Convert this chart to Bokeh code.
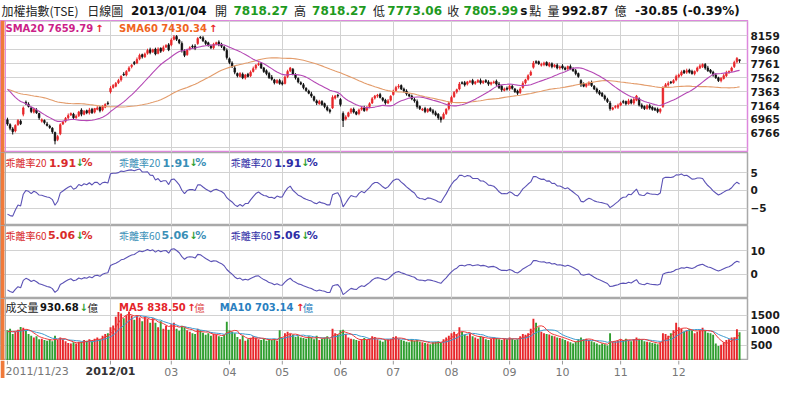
import numpy as np
import pandas as pd
from bokeh.plotting import figure
from bokeh.layouts import column
from bokeh.models import Range1d, FixedTicker, BoxAnnotation, Span
from bokeh.embed import file_html
from bokeh.resources import INLINE
from bokeh.core.properties import value

# ---------------- data ----------------
# closes before the first shown day (needed for SMA20 / SMA60)
prior_close = [7560, 7620, 7740,
               7710, 7660, 7530, 7420, 7480, 7560, 7500, 7420, 7380, 7330, 7420, 7510, 7600, 7560, 7480, 7300, 7250, 7230, 7280, 7230,
               7210, 7120, 7000, 7050, 7150, 7200, 7300, 7400, 7350, 7420, 7480, 7380, 7330, 7400, 7450, 7420, 7460,
               7480, 7630, 7680, 7600, 7450, 7420, 7520, 7580, 7560, 7480, 7510, 7420, 7460, 7380, 7330, 7260, 7200, 7060, 6980]
prior_vol = [980, 1020, 940, 900, 960, 1000, 920, 880, 950]

close_2011_11 = [6900, 6840, 6790, 6880, 6950, 6905]
close_2011_12 = [7130, 7190, 7150, 7080, 7110, 7060, 6990, 6960, 6920, 6880, 6850, 6790, 6660, 6720, 6890, 6930, 6980, 7020, 7050, 6990, 7010, 7072]
close_2012_01 = [7040, 7080, 7060, 7100, 7060, 7120, 7130, 7090, 7150, 7180, 7190, 7410, 7450]
close_2012_02 = [7480, 7520, 7580, 7600, 7650, 7700, 7740, 7760, 7820, 7880, 7860, 7900, 7950, 7920, 7960, 7900, 7970, 7940, 7990, 8020, 7960]
close_2012_03 = [8100, 8144, 8110, 8060, 7950, 7880, 7960, 7990, 8000, 7980, 8120, 8130, 8090, 8050, 8020, 7990, 8040, 8060, 8030, 8010, 7960, 7850]
close_2012_04 = [7780, 7720, 7640, 7590, 7620, 7560, 7600, 7580, 7640, 7690, 7740, 7760, 7700, 7650, 7620, 7560, 7540, 7490, 7520, 7480]
close_2012_05 = [7470, 7570, 7650, 7700, 7610, 7560, 7500, 7470, 7420, 7380, 7340, 7300, 7240, 7200, 7220, 7180, 7150, 7100, 7080, 7280, 7300, 7301]
close_2012_06 = [7180, 6950, 7000, 7060, 7110, 7070, 7040, 7100, 7130, 7090, 7140, 7190, 7260, 7300, 7310, 7280, 7240, 7200, 7230, 7296]
close_2012_07 = [7370, 7420, 7440, 7400, 7370, 7330, 7300, 7260, 7230, 7150, 7120, 7110, 7080, 7110, 7090, 7060, 7030, 6990, 6960, 7040, 7110, 7200]
close_2012_08 = [7280, 7350, 7390, 7470, 7480, 7460, 7500, 7510, 7480, 7500, 7520, 7490, 7510, 7500, 7470, 7490, 7500, 7470, 7420, 7390, 7400, 7397]
close_2012_09 = [7440, 7410, 7360, 7340, 7400, 7480, 7530, 7590, 7640, 7770, 7780, 7760, 7750, 7770, 7740, 7760, 7720, 7740, 7700, 7715]
close_2012_10 = [7700, 7680, 7720, 7690, 7660, 7620, 7580, 7460, 7440, 7470, 7490, 7450, 7400, 7360, 7330, 7300, 7260, 7220, 7120, 7130, 7150, 7166]
close_2012_11 = [7200, 7210, 7190, 7230, 7200, 7250, 7300, 7170, 7140, 7120, 7160, 7130, 7110, 7100, 7080, 7110, 7420, 7460, 7480, 7490, 7520, 7580]
close_2012_12 = [7600, 7640, 7630, 7660, 7640, 7620, 7650, 7700, 7730, 7750, 7700, 7660, 7640, 7600, 7560, 7520, 7550, 7590, 7630, 7650, 7699]
close_2013_01 = [7779, 7836, 7805.99]

open_2011_11 = [6960, 6890, 6830, 6800, 6890, 6940]
open_2011_12 = [7040, 7210, 7180, 7130, 7070, 7100, 7050, 6940, 6950, 6900, 6870, 6840, 6780, 6680, 6760, 6900, 6940, 6990, 7030, 7040, 6990, 7020]
open_2012_01 = [7100, 7040, 7090, 7060, 7110, 7070, 7110, 7140, 7100, 7140, 7200, 7360, 7420]
open_2012_02 = [7440, 7490, 7530, 7610, 7600, 7660, 7720, 7780, 7770, 7830, 7890, 7860, 7910, 7960, 7930, 7970, 7910, 7980, 7950, 8000, 8030]
open_2012_03 = [8030, 8110, 8150, 8100, 8050, 7940, 7890, 7970, 8010, 8010, 8050, 8140, 8130, 8080, 8060, 8010, 7990, 8040, 8070, 8040, 8000, 7950]
open_2012_04 = [7830, 7770, 7700, 7620, 7580, 7610, 7560, 7610, 7590, 7650, 7700, 7750, 7760, 7700, 7660, 7620, 7570, 7530, 7490, 7520]
open_2012_05 = [7490, 7480, 7580, 7660, 7680, 7600, 7550, 7490, 7460, 7410, 7370, 7330, 7290, 7230, 7190, 7220, 7190, 7140, 7100, 7130, 7270, 7310]
open_2012_06 = [7250, 7050, 6970, 7010, 7070, 7110, 7070, 7050, 7110, 7130, 7100, 7150, 7200, 7270, 7300, 7320, 7270, 7240, 7200, 7240]
open_2012_07 = [7320, 7380, 7430, 7450, 7400, 7370, 7320, 7300, 7250, 7220, 7150, 7100, 7120, 7080, 7120, 7090, 7060, 7040, 6990, 6980, 7050, 7120]
open_2012_08 = [7210, 7290, 7360, 7400, 7490, 7490, 7470, 7500, 7520, 7480, 7500, 7520, 7490, 7520, 7500, 7470, 7490, 7510, 7470, 7440, 7380, 7410]
open_2012_09 = [7400, 7440, 7400, 7370, 7350, 7420, 7490, 7540, 7600, 7710, 7790, 7790, 7740, 7750, 7780, 7730, 7760, 7720, 7740, 7700]
open_2012_10 = [7730, 7700, 7690, 7720, 7690, 7660, 7620, 7520, 7470, 7440, 7470, 7490, 7440, 7400, 7360, 7340, 7300, 7250, 7200, 7110, 7140, 7140]
open_2012_11 = [7170, 7220, 7220, 7190, 7240, 7200, 7240, 7260, 7170, 7150, 7120, 7160, 7140, 7120, 7110, 7080, 7150, 7430, 7460, 7500, 7490, 7530]
open_2012_12 = [7580, 7600, 7660, 7640, 7670, 7650, 7620, 7660, 7700, 7720, 7750, 7700, 7670, 7640, 7600, 7560, 7520, 7550, 7590, 7640, 7660]
open_2013_01 = [7720, 7790, 7818.27]

# upper / lower shadow lengths (points above max(open,close), below min(open,close))
upper_shadow = [30, 20, 25, 15, 20, 25,
                20, 25, 30, 15, 20, 25, 10, 20, 15, 30, 20, 15, 10, 25, 20, 15, 20, 30, 15, 20, 25, 15,
                25, 20, 15, 30, 20, 10, 25, 15, 20, 15, 25, 30, 20,
                20, 25, 15, 30, 20, 25, 15, 20, 30, 25, 15, 20, 25, 30, 15, 20, 25, 15, 30, 20, 25,
                25, 26, 20, 15, 30, 25, 15, 20, 25, 30, 20, 15, 25, 20, 15, 25, 20, 15, 25, 20, 15, 30,
                20, 25, 30, 15, 20, 25, 15, 20, 25, 30, 15, 20, 25, 15, 20, 25, 30, 15, 20, 25,
                30, 20, 25, 15, 20, 25, 15, 20, 25, 15, 20, 30, 15, 20, 25, 20, 15, 25, 20, 30, 15, 20,
                20, 30, 25, 15, 20, 25, 15, 20, 25, 30, 15, 20, 25, 15, 20, 25, 15, 20, 25, 15,
                20, 25, 30, 15, 20, 25, 15, 20, 25, 30, 15, 20, 25, 15, 20, 25, 30, 15, 20, 25, 15, 20,
                25, 20, 15, 30, 20, 25, 15, 20, 25, 15, 20, 30, 15, 20, 25, 15, 20, 25, 30, 15, 20, 25,
                20, 25, 15, 20, 25, 30, 15, 20, 25, 30, 20, 15, 25, 20, 15, 25, 20, 15, 25, 20,
                25, 20, 15, 30, 20, 25, 15, 20, 25, 15, 20, 30, 15, 20, 25, 15, 20, 25, 30, 15, 20, 25,
                20, 25, 15, 30, 20, 25, 15, 20, 25, 15, 20, 30, 15, 20, 25, 15, 20, 25, 30, 15, 20, 25,
                20, 25, 15, 30, 20, 25, 15, 20, 25, 15, 20, 30, 15, 20, 25, 15, 20, 25, 30, 15, 20,
                25, 20, 0]
lower_shadow = [25, 30, 40, 20, 15, 20,
                30, 20, 15, 25, 20, 15, 30, 20, 25, 15, 20, 30, 51, 25, 20, 15, 20, 25, 15, 20, 15, 20,
                30, 15, 20, 25, 15, 20, 15, 25, 20, 15, 20, 25, 15,
                15, 20, 25, 15, 20, 15, 25, 20, 15, 20, 25, 15, 20, 25, 15, 20, 15, 25, 20, 15, 20,
                20, 15, 25, 20, 30, 25, 15, 20, 15, 25, 20, 15, 20, 25, 15, 20, 25, 15, 20, 25, 20, 30,
                25, 20, 30, 25, 15, 20, 25, 15, 20, 15, 25, 20, 15, 20, 25, 15, 20, 25, 15, 20,
                20, 15, 25, 20, 15, 25, 20, 15, 25, 20, 15, 25, 20, 30, 15, 20, 25, 20, 30, 15, 20, 25,
                30, 93, 20, 15, 25, 20, 15, 25, 20, 15, 20, 25, 15, 20, 25, 15, 20, 25, 15, 20,
                15, 20, 25, 15, 20, 25, 15, 20, 25, 30, 20, 15, 25, 20, 15, 25, 20, 30, 40, 15, 20, 25,
                20, 15, 25, 20, 15, 25, 20, 15, 25, 20, 15, 25, 20, 15, 25, 20, 15, 25, 20, 30, 15, 20,
                25, 20, 15, 25, 20, 15, 25, 20, 15, 20, 25, 15, 20, 25, 15, 20, 25, 15, 20, 25,
                20, 15, 25, 20, 15, 25, 20, 30, 15, 20, 25, 20, 15, 25, 20, 15, 25, 20, 30, 15, 20, 25,
                15, 20, 25, 15, 20, 25, 15, 20, 25, 20, 15, 25, 20, 15, 25, 30, 20, 15, 25, 20, 15, 20,
                25, 20, 15, 25, 20, 15, 25, 20, 15, 20, 25, 15, 20, 25, 15, 20, 25, 15, 20, 25, 15,
                20, 25, 32.93]

vol_2011_11 = [1000, 1050, 880, 950, 1020, 1110]
vol_2011_12 = [1080, 1000, 880, 820, 760, 800, 700, 720, 680, 650, 700, 640, 820, 680, 760, 700, 640, 580, 560, 600, 560, 620]
vol_2012_01 = [620, 680, 650, 700, 640, 720, 760, 700, 820, 880, 900, 1100, 1160]
vol_2012_02 = [1450, 1600, 1550, 1400, 1500, 1620, 1480, 1350, 1500, 1420, 1300, 1450, 1380, 1250, 1400, 1250, 1100, 1300, 1050, 1150, 1020]
vol_2012_03 = [1200, 1250, 1050, 980, 1150, 1100, 1000, 950, 900, 880, 1050, 1000, 920, 850, 900, 820, 880, 850, 800, 780, 850, 1280]
vol_2012_04 = [1000, 950, 900, 780, 700, 820, 650, 700, 750, 800, 760, 700, 680, 720, 650, 700, 680, 720, 650, 1000]
vol_2012_05 = [750, 900, 950, 880, 850, 780, 800, 760, 740, 720, 800, 760, 700, 820, 680, 720, 760, 800, 700, 1050, 900, 860]
vol_2012_06 = [1000, 1020, 880, 760, 720, 700, 680, 650, 700, 740, 680, 720, 800, 780, 700, 660, 620, 680, 700, 720]
vol_2012_07 = [780, 800, 720, 680, 650, 620, 600, 700, 650, 680, 620, 600, 580, 560, 540, 600, 620, 640, 580, 700, 760, 820]
vol_2012_08 = [900, 950, 880, 1100, 950, 860, 820, 880, 800, 760, 720, 800, 780, 700, 680, 720, 760, 740, 700, 680, 720, 700]
vol_2012_09 = [760, 720, 680, 700, 800, 880, 850, 900, 1050, 1380, 1250, 1100, 950, 900, 880, 860, 820, 800, 760, 740]
vol_2012_10 = [720, 680, 640, 600, 560, 620, 700, 760, 700, 720, 680, 640, 600, 560, 520, 560, 540, 500, 900, 620, 640, 660]
vol_2012_11 = [700, 680, 720, 660, 640, 700, 760, 720, 680, 640, 620, 600, 580, 560, 540, 600, 900, 880, 820, 900, 1000, 1250]
vol_2012_12 = [1100, 1050, 960, 1000, 1050, 1000, 900, 950, 1000, 1080, 1000, 920, 900, 850, 560, 480, 520, 600, 679, 700, 760]
vol_2013_01 = [770, 1031.8, 930.68]

month_ticks = [39, 62, 84, 104, 126, 146, 168, 190, 210, 232, 254]
month_labels = ["2012/01", "03", "04", "05", "06", "07", "08", "09", "10", "11", "12"]
first_label = "2011/11/23"
price_ticks = [6766, 6965, 7164, 7363, 7562, 7761, 7960, 8159]
price_grid = [6567, 6766, 6965, 7164, 7363, 7562, 7761, 7960, 8159, 8358]
bias20_ticks = [-5, 0, 5]
bias60_ticks = [0, 10]
vol_ticks = [500, 1000, 1500]

# ---------------- derived series ----------------
close = (close_2011_11 + close_2011_12 + close_2012_01 + close_2012_02 + close_2012_03 + close_2012_04 +
         close_2012_05 + close_2012_06 + close_2012_07 + close_2012_08 + close_2012_09 + close_2012_10 +
         close_2012_11 + close_2012_12 + close_2013_01)
opn = (open_2011_11 + open_2011_12 + open_2012_01 + open_2012_02 + open_2012_03 + open_2012_04 +
       open_2012_05 + open_2012_06 + open_2012_07 + open_2012_08 + open_2012_09 + open_2012_10 +
       open_2012_11 + open_2012_12 + open_2013_01)
vol = (vol_2011_11 + vol_2011_12 + vol_2012_01 + vol_2012_02 + vol_2012_03 + vol_2012_04 +
       vol_2012_05 + vol_2012_06 + vol_2012_07 + vol_2012_08 + vol_2012_09 + vol_2012_10 +
       vol_2012_11 + vol_2012_12 + vol_2013_01)

N = len(close)
xi = np.arange(N)
c = np.array(close, float)
o = np.array(opn, float)
v = np.array(vol, float)
hi = np.maximum(o, c) + np.array(upper_shadow, float)
lo = np.minimum(o, c) - np.array(lower_shadow, float)

ce = pd.Series(prior_close + close, dtype=float)
sma20 = ce.rolling(20).mean().to_numpy()[len(prior_close):]
sma60 = ce.rolling(60).mean().to_numpy()[len(prior_close):]
bias20 = (c - sma20) / sma20 * 100
bias60 = (c - sma60) / sma60 * 100
ve = pd.Series(prior_vol + vol, dtype=float)
ma5 = ve.rolling(5).mean().to_numpy()[len(prior_vol):]
ma10 = ve.rolling(10).mean().to_numpy()[len(prior_vol):]

RED = "#e8262a"
BLK = "#111111"
GRN = "#2f9e2f"
up = c > o
ccol = [RED if u else BLK for u in up]
vcol = [RED if u else GRN for u in up]

# ---------------- layout helpers ----------------
W = 784
RB = 37
XR = Range1d(-2.62, 280.0)


def xd(px):
    return (px - 7) / 2.675


def ytop(y0, y1, h, px):
    """data y located px pixels below the top of a panel of height h"""
    return y1 - px * (y1 - y0) / h


def panel(h, y0, y1, ticks, gticks, outline):
    p = figure(width=W, height=h, x_range=XR, y_range=Range1d(y0, y1),
               output_backend="svg", toolbar_location=None,
               x_axis_location=None, y_axis_location="right",
               min_border_left=0, min_border_right=RB, min_border_top=0, min_border_bottom=0)
    ax = p.yaxis[0]
    ax.ticker = FixedTicker(ticks=ticks)
    ax.axis_line_color = None
    ax.major_tick_line_color = None
    ax.minor_tick_line_color = None
    ax.major_tick_out = 0
    ax.major_tick_in = 0
    ax.minor_tick_out = 0
    ax.major_label_standoff = 3
    ax.major_label_text_font = "DejaVu Sans"
    ax.major_label_text_font_style = "bold"
    ax.major_label_text_font_size = "10.5px"
    ax.major_label_text_color = "#1a1a1a"
    p.xgrid.ticker = FixedTicker(ticks=month_ticks)
    p.ygrid.ticker = FixedTicker(ticks=gticks)
    p.grid.grid_line_color = "#d2d2d2"
    p.grid.grid_line_width = 1
    p.outline_line_color = outline
    p.outline_line_width = 1.5
    p.background_fill_color = "white"
    p.border_fill_color = "white"
    p.add_layout(BoxAnnotation(right=xd(4), fill_color="#f07a3a", fill_alpha=1.0,
                               line_alpha=0.0, level="overlay"))
    p.add_layout(Span(location=xd(5), dimension="height", line_color=outline, line_width=1))
    return p


def txt(p, text, x, y, color, size, font="DejaVu Sans", style="bold", align="left"):
    p.text(x=[x], y=[y], text=[text], text_color=color, text_font=value(font),
           text_font_size=size, text_font_style=style,
           text_baseline="middle", text_align=align)


CJK = "Noto Sans CJK TC"
H_T, H_M, H_B, H_V, H_L = 20, 132, 73, 62, 18

# ---------------- title row ----------------
t = figure(width=W, height=H_T, x_range=Range1d(0, W), y_range=Range1d(0, H_T),
           output_backend="svg", toolbar_location=None,
           x_axis_location=None, y_axis_location=None, min_border=0)
t.grid.visible = False
t.outline_line_color = None
TY = 10
TGRN = "#1e9a1e"
TK = "#222222"
txt(t, "加權指數(TSE)", 1, TY, TK, "12px", CJK, "normal")
txt(t, "日線圖", 91, TY, TK, "12px", CJK, "normal")
txt(t, "2013/01/04", 137, TY, "#111111", "12px")
txt(t, "開", 225, TY, TK, "12px", CJK, "normal")
txt(t, "7818.27", 244.5, TY, TGRN, "12px")
txt(t, "高", 308, TY, TK, "12px", CJK, "normal")
txt(t, "7818.27", 327, TY, TGRN, "12px")
txt(t, "低", 391, TY, TK, "12px", CJK, "normal")
txt(t, "7773.06", 406, TY, TGRN, "12px")
txt(t, "收", 469, TY, TK, "12px", CJK, "normal")
txt(t, "7805.99", 486, TY, TGRN, "12px")
txt(t, "s", 545.5, TY, "#111111", "12px")
txt(t, "點", 555, TY, TK, "12px", CJK, "normal")
txt(t, "量", 574, TY, TK, "12px", CJK, "normal")
txt(t, "992.87", 589, TY, "#111111", "12px")
txt(t, "億", 644.5, TY, TK, "12px", CJK, "normal")
txt(t, "-30.85 (-0.39%)", 666, TY, "#111111", "12px")

# ---------------- main price panel ----------------
PINK = "#dd88dd"
GRAY = "#a9a9a9"
pm = panel(H_M, 6493, 8378, price_ticks, price_grid, PINK)
pm.segment(x0=xi, y0=lo, x1=xi, y1=hi, line_color=ccol, line_width=1)
pm.vbar(x=xi, width=0.6, top=np.maximum(o, c), bottom=np.minimum(o, c),
        fill_color=ccol, line_color=ccol, line_width=0.7)
pm.line(xi, sma60, line_color="#e39c6b", line_width=1.1)
pm.line(xi, sma20, line_color="#b548b5", line_width=1.1)
MY = ytop(6493, 8378, H_M, 8)
txt(pm, "SMA20 7659.79", xd(5), MY, "#cc1f88", "10px")
txt(pm, "↑", xd(96), MY, RED, "10px")
txt(pm, "SMA60 7430.34", xd(120), MY, "#f0651e", "10px")
txt(pm, "↑", xd(211), MY, RED, "10px")

# ---------------- bias 20 panel ----------------
BLUE_LINE = "#5b52b5"
C_RED = "#d92b2b"
C_TEAL = "#3a8fb7"
C_NAVY = "#2e2ea6"
p20 = panel(H_B, -9.9, 10.7, bias20_ticks, bias20_ticks, GRAY)
p20.line(xi, bias20, line_color=BLUE_LINE, line_width=1.1)
B2 = ytop(-9.9, 10.7, H_B, 10)
for px, col in [(5, C_RED), (120, C_TEAL), (233, C_NAVY)]:
    txt(p20, "乖離率20", xd(px), B2, col, "10px", CJK, "normal")
    txt(p20, "1.91", xd(px + 44), B2, col, "11px")
    txt(p20, "↓", xd(px + 71), B2, GRN, "10px")
    txt(p20, "%", xd(px + 77), B2, col, "11px")

# ---------------- bias 60 panel ----------------
p60 = panel(H_B, -10.4, 20.8, bias60_ticks, bias60_ticks, GRAY)
p60.line(xi, bias60, line_color=BLUE_LINE, line_width=1.1)
B6 = ytop(-10.4, 20.8, H_B, 9.5)
for px, col in [(5, C_RED), (120, C_TEAL), (233, C_NAVY)]:
    txt(p60, "乖離率60", xd(px), B6, col, "10px", CJK, "normal")
    txt(p60, "5.06", xd(px + 43), B6, col, "11px")
    txt(p60, "↓", xd(px + 71), B6, GRN, "10px")
    txt(p60, "%", xd(px + 77), B6, col, "11px")

# ---------------- volume panel ----------------
pv = panel(H_V, 0, 2050, vol_ticks, vol_ticks, GRAY)
pv.vbar(x=xi, width=0.72, top=v, bottom=0, fill_color=vcol, line_color=None)
pv.line(xi, ma10, line_color="#3d9bd0", line_width=1)
pv.line(xi, ma5, line_color="#ee3b3b", line_width=1)
VY = ytop(0, 2050, H_V, 8.5)
txt(pv, "成交量", xd(5), VY, "#222222", "11px", CJK, "normal")
txt(pv, "930.68", xd(40), VY, "#111111", "10px")
txt(pv, "↓", xd(80), VY, GRN, "10px")
txt(pv, "億", xd(88), VY, "#222222", "10.5px", CJK, "normal")
txt(pv, "MA5 838.50", xd(120), VY, "#e4252a", "10px")
txt(pv, "↑", xd(189), VY, RED, "10px")
txt(pv, "億", xd(196), VY, "#e05050", "10.5px", CJK, "normal")
txt(pv, "MA10 703.14", xd(222), VY, "#2a7fc0", "10px")
txt(pv, "↑", xd(299), VY, RED, "10px")
txt(pv, "億", xd(306), VY, "#2a7fc0", "10.5px", CJK, "normal")

# ---------------- x labels row ----------------
lb = figure(width=W, height=H_L, x_range=XR, y_range=Range1d(0, H_L),
            output_backend="svg", toolbar_location=None,
            x_axis_location=None, y_axis_location=None,
            min_border_left=0, min_border_right=RB, min_border_top=0, min_border_bottom=0)
lb.grid.visible = False
lb.outline_line_color = None
lb.add_layout(BoxAnnotation(right=xd(4), fill_color="#f07a3a", fill_alpha=1.0, line_alpha=0.0))
tick_x = [0] + month_ticks
lb.segment(x0=tick_x, y0=[H_L] * len(tick_x), x1=tick_x, y1=[H_L - 4] * len(tick_x),
           line_color="#9a9a9a", line_width=1)
LY = 7
lb.text(x=[xd(5)], y=[LY], text=[first_label], text_font=value("DejaVu Sans"),
        text_font_size="11px", text_color="#777777", text_align="left", text_baseline="middle")
lb.text(x=month_ticks[:1], y=[LY], text=month_labels[:1], text_font=value("DejaVu Sans"),
        text_font_size="11px", text_font_style="bold", text_color="#333333",
        text_align="center", text_baseline="middle")
lb.text(x=month_ticks[1:], y=[LY] * (len(month_ticks) - 1), text=month_labels[1:],
        text_font=value("DejaVu Sans"), text_font_size="11px", text_color="#777777",
        text_align="center", text_baseline="middle")

layout = column(t, pm, p20, p60, pv, lb)
open("out.html", "w").write(file_html(layout, INLINE))
